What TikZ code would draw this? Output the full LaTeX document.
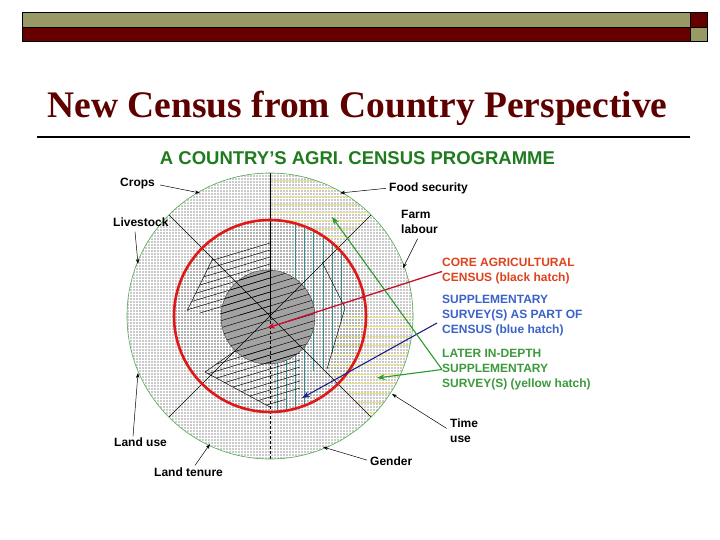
\documentclass[tikz,border=0pt]{standalone}
\usepackage{fontspec}
\setmainfont{Liberation Serif}
\newfontfamily\arial{Liberation Sans}
\usetikzlibrary{arrows.meta,calc}
\definecolor{olivebar}{HTML}{999966}
\definecolor{darkredbar}{HTML}{660000}
\definecolor{titlered}{HTML}{5E0000}
\definecolor{agrgreen}{HTML}{1E7B1E}
\definecolor{corered}{HTML}{E0421C}
\definecolor{suppblue}{HTML}{3B62C8}
\definecolor{latergreen}{HTML}{3C9A3C}
\definecolor{ringred}{HTML}{E01818}
\definecolor{arrred}{HTML}{C8102E}
\definecolor{arrblue}{HTML}{1E1E8C}
\definecolor{arrgreen}{HTML}{2E9A2E}
\definecolor{tealh}{HTML}{3A8C8C}
\definecolor{yellowh}{HTML}{EDE27A}
\definecolor{outergray}{HTML}{CACACA}
\definecolor{innergray}{HTML}{B2B2B2}
\definecolor{coregray}{HTML}{A2A2A2}
\begin{document}
\begin{tikzpicture}[x=1pt,y=-1pt,
  lab/.style={font=\arial\bfseries\fontsize{12}{15}\selectfont, inner sep=0pt, anchor=west, align=left},
  ptr/.style={-{Stealth[length=5pt,width=3.5pt]}, line width=0.5pt, black},
  bigarrow/.style={-{Stealth[length=8pt,width=6pt]}, line width=1.3pt},
  hatchline/.style={line width=0.45pt, black},
  radial/.style={line width=0.4pt, black},
  barbox/.style={draw=black, line width=0.6pt}
]
\useasboundingbox (0,0) rectangle (720,540);
\fill[white] (0,0) rectangle (720,540);
% top bar
\path[barbox, fill=olivebar] (22,12) rectangle (690,27);
\path[barbox, fill=darkredbar] (22,27) rectangle (690,41);
\path[barbox, fill=darkredbar] (690,12) rectangle (707,27);
\path[barbox, fill=olivebar] (690,27) rectangle (707,41);
% title
\node[font=\bfseries\fontsize{37.5}{40}\selectfont, text=titlered, anchor=base, inner sep=0pt] (title) at (357.5,118) {New Census from Country Perspective};
\coordinate (ulA) at (37,137);
\coordinate (ulB) at (690,137);
\draw[line width=2pt] (ulA) -- (ulB);
% diagram title
\node[font=\arial\bfseries\fontsize{18.5}{20}\selectfont, text=agrgreen, anchor=base, inner sep=0pt] (dtitle) at (357.5,165) {A COUNTRY’S AGRI. CENSUS PROGRAMME};

\coordinate (C) at (270,316);
\coordinate (I) at (268,317);
% base disks
\fill[outergray] (C) circle[radius=143pt];
\fill[innergray] (C) circle[radius=96pt];
\begin{scope}
  \clip (C) circle[radius=143pt];
  \draw[white, line width=0.8pt, step=3pt] (120,165) grid (420,465);
\end{scope}
% yellow hatch, upper-right ring sector
\begin{scope}
  \clip (270,220) -- (270,173) arc[start angle=90, end angle=45, radius=143pt]
        -- ($(C)+(45:96pt)$) arc[start angle=45, end angle=90, radius=96pt] -- cycle;
  \foreach \k in {0,...,8} {\draw[yellowh, line width=0.8pt] (260,{180+8*\k}) -- (420,{180+8*\k});}
\end{scope}
% yellow hatch, right sector
\begin{scope}
  \clip (C) circle[radius=143pt];
  \clip (345,310) -- (420,310) -- (420,430) -- (384,430) -- (331,377) -- (329,367) -- cycle;
  \foreach \k in {0,...,11} {\draw[yellowh, line width=0.8pt] (320,{317+9.5*\k}) -- (420,{317+9.5*\k});}
\end{scope}
% blue (teal) hatch
\begin{scope}
  \clip (C) circle[radius=95pt];
  \clip (290,210) -- (352,210) -- (352,300) -- (345,308) -- (329,367) -- (310,372)
        -- (310,420) -- (274,420) -- (274,360) -- (290,360) -- cycle;
  \foreach \k in {0,...,7} {\draw[tealh, line width=0.7pt] ({277+9.2*\k},210) -- ({277+9.2*\k},420);}
\end{scope}
% core circle
\fill[coregray] (I) circle[radius=47pt];
% black hatch
\begin{scope}
  \clip (I) circle[radius=47pt];
  \foreach \k in {0,...,30} {\draw[hatchline] (150,{230+7*\k}) -- (400,{230+7*\k-75});}
\end{scope}
\begin{scope}
  \clip (213,258) -- (270,241) -- (270,317) -- (187,312) -- cycle;
  \foreach \k in {0,...,30} {\draw[hatchline] (150,{230+7*\k}) -- (400,{230+7*\k-75});}
\end{scope}
\begin{scope}
  \clip (205,372) -- (235,351) -- (300,345) -- (300,392) -- (270,407) -- cycle;
  \foreach \k in {0,...,30} {\draw[hatchline] (150,{230+7*\k}) -- (400,{230+7*\k-75});}
\end{scope}
\draw[line width=0.5pt, black!70] (I) circle[radius=47pt];
\draw[hatchline] (213,258) -- (187,311);
\draw[hatchline] (205,372) -- (235,351);
\draw[hatchline] (205,372) -- (270,407);
\draw[hatchline] (322,262) -- (345,308) -- (327,369);
% radial lines
\draw[radial] (C) -- ($(C)+(90:143pt)$);
\draw[radial, dashed, dash pattern=on 3pt off 2pt] (C) -- ($(C)+(270:143pt)$);
\draw[radial] (C) -- ($(C)+(45:143pt)$);
\draw[radial] (C) -- ($(C)+(135:143pt)$);
\draw[radial] (C) -- ($(C)+(225:143pt)$);
\draw[radial] (C) -- ($(C)+(315:143pt)$);
% circles
\draw[ringred, line width=2.6pt] (C) circle[radius=96pt];
\draw[green!35!gray, line width=0.6pt] (C) circle[radius=143pt];

% labels
\node[lab] (crops) at (120,184) {Crops};
\node[lab] (livestock) at (113,222) {Livestock};
\node[lab] (food) at (389,188) {Food security};
\node[lab] (farm) at (401,222) {Farm\\labour};
\node[lab] (landuse) at (114,442) {Land use};
\node[lab] (tenure) at (154,472) {Land tenure};
\node[lab] (gender) at (370,461) {Gender};
\node[lab] (timeuse) at (450,430.5) {Time\\use};
\node[lab, text=corered] (core) at (442,271.5) {CORE AGRICULTURAL\\CENSUS (black hatch)};
\node[lab, text=suppblue] (supp) at (442,316) {SUPPLEMENTARY\\SURVEY(S) AS PART OF\\CENSUS (blue hatch)};
\node[lab, text=latergreen] (later) at (442,369.5) {LATER IN-DEPTH\\SUPPLEMENTARY\\SURVEY(S) (yellow hatch)};

% arrow targets
\coordinate (tcrops) at (200,193);
\coordinate (tlive) at (138,264);
\coordinate (tfood) at (340,193);
\coordinate (tfarm) at (403,268);
\coordinate (tlanduse) at (138,373);
\coordinate (ttenure) at (210,444);
\coordinate (tgender) at (323,447);
\coordinate (ttime) at (392,394);
\coordinate (tred) at (267,328);
\coordinate (tblue) at (302,398);
\coordinate (tgreenA) at (332,217);
\coordinate (tgreenB) at (377,378);

\draw[ptr, shorten <=5pt] (crops.east) -- (tcrops);
\draw[ptr] ($(livestock.south west)+(22,5)$) -- (tlive);
\draw[ptr, shorten <=3pt] (food.west) -- (tfood);
\draw[ptr] ($(farm.south)+(-2,5)$) -- (tfarm);
\draw[ptr] ($(landuse.north west)+(19,-1)$) -- (tlanduse);
\draw[ptr] ($(tenure.north west)+(41,-2)$) -- (ttenure);
\draw[ptr, shorten <=3pt] (gender.west) -- (tgender);
\draw[ptr, shorten <=4pt] (timeuse.west) -- (ttime);

\draw[bigarrow, arrred] (core.west) -- (tred);
\draw[bigarrow, arrblue, line width=1.1pt] ($(supp.west)+(-5,7)$) -- (tblue);
\draw[bigarrow, arrgreen, line width=1.1pt] (later.west) -- (tgreenA);
\draw[bigarrow, arrgreen, line width=1.1pt] (later.west) -- (tgreenB);
\end{tikzpicture}
\end{document}
